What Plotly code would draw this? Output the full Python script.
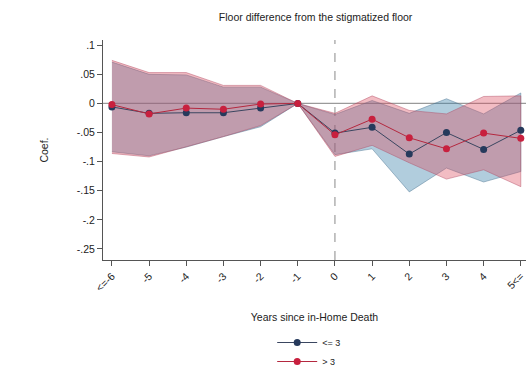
import plotly.graph_objects as go

years = [-6, -5, -4, -3, -2, -1, 0, 1, 2, 3, 4, 5]
year_labels = ["<=-6", "-5", "-4", "-3", "-2", "-1", "0", "1", "2", "3", "4", "5<="]

# Series "<= 3" (navy)
low_coef = [-0.006, -0.017, -0.016, -0.016, -0.008, 0.0, -0.051, -0.041, -0.087, -0.050, -0.079, -0.046]
low_upper = [0.071, 0.050, 0.049, 0.028, 0.028, 0.0, -0.019, 0.005, -0.017, 0.008, -0.018, 0.018]
low_lower = [-0.083, -0.090, -0.075, -0.057, -0.040, 0.0, -0.088, -0.078, -0.152, -0.111, -0.135, -0.117]

# Series "> 3" (maroon)
high_coef = [-0.002, -0.018, -0.008, -0.010, -0.001, 0.0, -0.054, -0.027, -0.059, -0.078, -0.051, -0.060]
high_upper = [0.074, 0.053, 0.053, 0.031, 0.031, 0.0, -0.017, 0.013, -0.012, -0.018, 0.012, 0.013]
high_lower = [-0.086, -0.092, -0.075, -0.057, -0.038, 0.0, -0.091, -0.072, -0.102, -0.130, -0.114, -0.143]

y_ticks = [0.1, 0.05, 0.0, -0.05, -0.1, -0.15, -0.2, -0.25]
y_tick_labels = [".1", ".05", "0", "-.05", "-.1", "-.15", "-.2", "-.25"]

FONT = "Liberation Sans, Arial, sans-serif"

fig = go.Figure()

# Confidence bands
fig.add_trace(go.Scatter(
    x=years + years[::-1], y=low_upper + low_lower[::-1],
    fill="toself", fillcolor="rgba(60,130,170,0.40)",
    line=dict(color="rgba(70,110,140,0.55)", width=0.8),
    mode="lines", showlegend=False, hoverinfo="skip"))
fig.add_trace(go.Scatter(
    x=years + years[::-1], y=high_upper + high_lower[::-1],
    fill="toself", fillcolor="rgba(220,70,90,0.36)",
    line=dict(color="rgba(175,70,95,0.55)", width=0.8),
    mode="lines", showlegend=False, hoverinfo="skip"))

# Coefficient lines
fig.add_trace(go.Scatter(
    x=years, y=low_coef, mode="lines+markers", name="<= 3",
    line=dict(color="#3a4660", width=1),
    marker=dict(color="#263a5c", size=7)))
fig.add_trace(go.Scatter(
    x=years, y=high_coef, mode="lines+markers", name="> 3",
    line=dict(color="#b4283f", width=1),
    marker=dict(color="#c8203e", size=7)))

# Reference lines
fig.add_shape(type="line", xref="paper", x0=0, x1=1, yref="y", y0=0, y1=0,
              line=dict(color="#9a9a9a", width=1.2), layer="below")
fig.add_shape(type="line", xref="x", x0=0, x1=0, yref="paper", y0=0, y1=1,
              line=dict(color="#8a8a8a", width=1, dash="dash"), layer="below")

fig.update_layout(
    width=526, height=376,
    margin=dict(l=103, r=0, t=40, b=107),
    paper_bgcolor="white", plot_bgcolor="white",
    font=dict(family=FONT, color="#222222", size=10),
    title=dict(text="Floor difference from the stigmatized floor",
               x=0.6, xanchor="center", y=0.955, yanchor="middle",
               font=dict(size=10.5, color="#222222")),
    showlegend=True,
    legend=dict(x=0.40, xanchor="left", y=-0.31, yanchor="top",
                orientation="v", font=dict(size=9),
                bgcolor="rgba(0,0,0,0)", itemwidth=40, tracegroupgap=4),
    xaxis=dict(range=[-6.24, 5.14], tickmode="array", tickvals=years,
               ticktext=year_labels, tickangle=-45, ticks="outside",
               ticklen=5, tickcolor="#555555", showline=True,
               linecolor="#555555", linewidth=1, showgrid=False,
               zeroline=False, tickfont=dict(size=10.5),
               title=dict(text="Years since in-Home Death", standoff=20,
                          font=dict(size=10.5))),
    yaxis=dict(range=[-0.269, 0.109], tickmode="array", tickvals=y_ticks,
               ticktext=y_tick_labels, ticks="outside", ticklen=5,
               tickcolor="#555555", showline=True, linecolor="#555555",
               linewidth=1, showgrid=False, zeroline=False,
               tickfont=dict(size=10.5),
               title=dict(text="Coef.", standoff=26, font=dict(size=10.5))),
)

fig.write_html("out.html")
